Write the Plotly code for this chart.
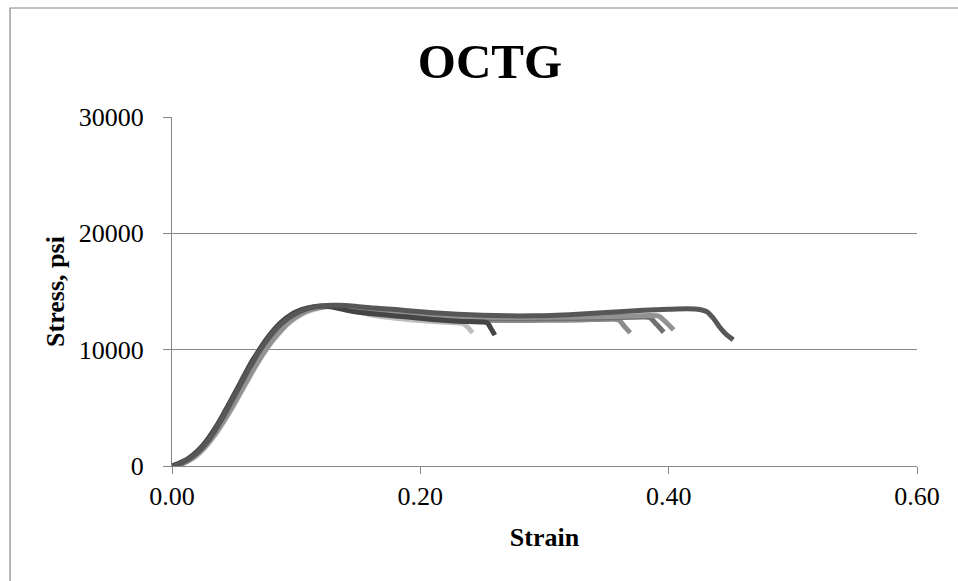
import plotly.graph_objects as go

# Stress-strain curves for OCTG specimens (strain, stress in psi)
strain_a = [0, 0.005, 0.010, 0.015, 0.020, 0.025, 0.030, 0.035, 0.040, 0.045, 0.050, 0.055,
            0.060, 0.065, 0.070, 0.075, 0.080, 0.085, 0.090, 0.095, 0.100, 0.110, 0.120,
            0.130, 0.140, 0.150, 0.160, 0.180, 0.200, 0.220, 0.234, 0.238, 0.242]
stress_a = [0, 80, 250, 520, 900, 1400, 2000, 2700, 3500, 4350, 5250, 6200,
            7150, 8100, 9000, 9850, 10600, 11250, 11850, 12350, 12750, 13300, 13600,
            13700, 13550, 13250, 13000, 12700, 12500, 12350, 12250, 11950, 11450]

strain_b = [0, 0.005, 0.010, 0.015, 0.020, 0.025, 0.030, 0.035, 0.040, 0.045, 0.050, 0.055,
            0.060, 0.065, 0.070, 0.075, 0.080, 0.085, 0.090, 0.095, 0.100, 0.110, 0.120,
            0.130, 0.150, 0.180, 0.200, 0.240, 0.280, 0.300, 0.330, 0.355, 0.360, 0.364, 0.369]
stress_b = [0, 100, 300, 580, 980, 1500, 2120, 2850, 3650, 4500, 5400, 6350,
            7300, 8250, 9150, 9950, 10700, 11350, 11950, 12450, 12850, 13400, 13650,
            13750, 13500, 13000, 12750, 12550, 12500, 12520, 12560, 12620, 12550, 12050, 11450]

strain_c = [0, 0.005, 0.010, 0.015, 0.020, 0.025, 0.030, 0.035, 0.040, 0.045, 0.050, 0.055,
            0.060, 0.065, 0.070, 0.075, 0.080, 0.085, 0.090, 0.095, 0.100, 0.110, 0.120,
            0.130, 0.150, 0.200, 0.250, 0.300, 0.350, 0.380, 0.385, 0.390, 0.396]
stress_c = [0, 130, 340, 640, 1050, 1580, 2220, 2970, 3800, 4680, 5600, 6550,
            7500, 8450, 9350, 10150, 10900, 11550, 12100, 12580, 12950, 13450, 13700,
            13780, 13600, 13000, 12700, 12650, 12720, 12800, 12750, 12200, 11500]

strain_d = [0, 0.005, 0.010, 0.015, 0.020, 0.025, 0.030, 0.035, 0.040, 0.045, 0.050, 0.055,
            0.060, 0.065, 0.070, 0.075, 0.080, 0.085, 0.090, 0.095, 0.100, 0.110, 0.120,
            0.130, 0.150, 0.200, 0.250, 0.300, 0.350, 0.385, 0.392, 0.398, 0.404]
stress_d = [0, 110, 320, 610, 1010, 1530, 2170, 2910, 3730, 4600, 5500, 6450,
            7400, 8350, 9250, 10050, 10800, 11450, 12020, 12520, 12900, 13420, 13680,
            13760, 13650, 13100, 12800, 12780, 12850, 12930, 12880, 12350, 11700]

strain_e = [0, 0.005, 0.010, 0.015, 0.020, 0.025, 0.030, 0.035, 0.040, 0.045, 0.050, 0.055,
            0.060, 0.065, 0.070, 0.075, 0.080, 0.085, 0.090, 0.095, 0.100, 0.110, 0.120,
            0.130, 0.140, 0.150, 0.170, 0.190, 0.210, 0.230, 0.250, 0.254, 0.257, 0.260]
stress_e = [0, 220, 450, 800, 1250, 1800, 2500, 3300, 4200, 5150, 6150, 7150,
            8150, 9100, 9950, 10750, 11450, 12050, 12550, 12950, 13250, 13600, 13750,
            13650, 13400, 13220, 13000, 12800, 12600, 12450, 12380, 12300, 11800, 11250]

strain_f = [0, 0.005, 0.010, 0.015, 0.020, 0.025, 0.030, 0.035, 0.040, 0.045, 0.050, 0.055,
            0.060, 0.065, 0.070, 0.075, 0.080, 0.085, 0.090, 0.095, 0.100, 0.105, 0.110,
            0.120, 0.130, 0.140, 0.150, 0.160, 0.180, 0.200, 0.220, 0.240, 0.260, 0.280,
            0.300, 0.320, 0.340, 0.360, 0.380, 0.400, 0.415, 0.425, 0.431, 0.436, 0.441,
            0.446, 0.452]
stress_f = [0, 150, 380, 700, 1100, 1650, 2300, 3100, 4000, 4950, 5950, 6950,
            7950, 8900, 9800, 10600, 11300, 11900, 12400, 12800, 13100, 13350, 13550,
            13750, 13820, 13800, 13700, 13600, 13450, 13250, 13100, 13000, 12940, 12900,
            12920, 13000, 13120, 13260, 13380, 13470, 13520, 13450, 13250, 12700, 11950,
            11350, 10850]

x_ticks = [0.0, 0.2, 0.4, 0.6]
x_tick_text = ["0.00", "0.20", "0.40", "0.60"]
y_ticks = [0, 10000, 20000, 30000]
y_tick_text = ["0", "10000", "20000", "30000"]

series = [
    (strain_a, stress_a, "#bdbdbd"),
    (strain_b, stress_b, "#8c8c8c"),
    (strain_c, stress_c, "#707070"),
    (strain_d, stress_d, "#929292"),
    (strain_e, stress_e, "#454545"),
    (strain_f, stress_f, "#575757"),
]

fig = go.Figure()
for xs, ys, color in series:
    fig.add_trace(go.Scatter(
        x=xs, y=ys, mode="lines",
        line=dict(color=color, width=5, shape="spline", smoothing=0.6),
        showlegend=False, hoverinfo="x+y",
    ))

serif = "Liberation Serif, Times New Roman, serif"
axis_grey = "#868686"

fig.update_layout(
    width=958, height=581,
    margin=dict(l=172, r=41, t=117, b=115),
    paper_bgcolor="white", plot_bgcolor="white",
    font=dict(family=serif, size=26, color="black"),
    title=dict(text="<b>OCTG</b>", font=dict(family=serif, size=49, color="black"),
               xref="container", x=0.5115, xanchor="center",
               yref="container", y=0.895, yanchor="middle"),
    xaxis=dict(
        range=[0, 0.6], tickvals=x_ticks, ticktext=x_tick_text,
        showgrid=False, zeroline=False,
        showline=True, linecolor=axis_grey, linewidth=1,
        ticks="outside", ticklen=7, tickcolor=axis_grey, tickwidth=1,
        tickfont=dict(family=serif, size=26),
        title=dict(text="<b>Strain</b>", font=dict(family=serif, size=26), standoff=17),
    ),
    yaxis=dict(
        range=[0, 30000], tickvals=y_ticks, ticktext=y_tick_text,
        showgrid=True, gridcolor=axis_grey, gridwidth=1, zeroline=False,
        showline=True, linecolor=axis_grey, linewidth=1,
        ticks="outside", ticklen=8, tickcolor=axis_grey, tickwidth=1,
        tickfont=dict(family=serif, size=26), ticklabelstandoff=14,
        title=dict(text="<b>Stress, psi</b>", font=dict(family=serif, size=26), standoff=6),
    ),
    shapes=[dict(
        type="rect", xref="paper", yref="paper",
        x0=-0.2174, x1=1.06, y0=-0.35, y1=1.3123,
        line=dict(color=axis_grey, width=1.2), fillcolor="rgba(0,0,0,0)", layer="below",
    )],
)

fig.write_html("out.html")
